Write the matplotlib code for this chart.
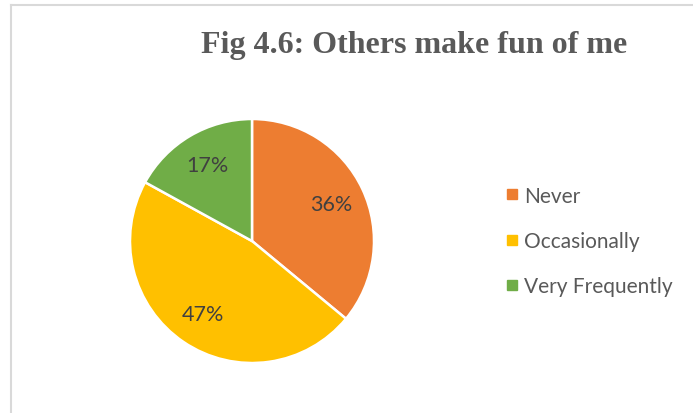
import matplotlib
matplotlib.use("Agg")
import matplotlib.pyplot as plt
from matplotlib.lines import Line2D

categories = ["Never", "Occasionally", "Very Frequently"]
values = [36, 47, 17]
colors = ["#ED7D31", "#FFC000", "#70AD47"]
title = "Fig 4.6: Others make fun of me"

W, H = 693, 414
fig = plt.figure(figsize=(W / 100, H / 100), dpi=100)
fig.patch.set_facecolor("white")

# chart border (top & left visible)
fig.add_artist(Line2D([11 / W, 11 / W], [0, 1 - 6 / H], transform=fig.transFigure,
                      color="#d9d9d9", lw=1.5))
fig.add_artist(Line2D([11 / W, 1], [1 - 6 / H, 1 - 6 / H], transform=fig.transFigure,
                      color="#d9d9d9", lw=1.5))

cx, cy, r = 252, 242, 122
ax = fig.add_axes([(cx - r) / W, (H - cy - r) / H, 2 * r / W, 2 * r / H])
wedges, texts, autotexts = ax.pie(
    values, colors=colors, startangle=90, counterclock=False,
    autopct="%1.0f%%", pctdistance=0.72,
    wedgeprops=dict(edgecolor="white", linewidth=1.8, clip_on=False),
    textprops=dict(color="#404040", fontsize=15.5, family="Lato"))
ax.set_xlim(-1.0, 1.0)
ax.set_ylim(-1.0, 1.0)
ax.set_aspect("equal")
ax.axis("off")

fig.text(414 / W, 1 - 46 / H, title, ha="center", va="center",
         fontsize=23, fontweight="bold", family="Liberation Serif", color="#595959")

handles = [Line2D([], [], marker="s", linestyle="none", markersize=7,
                  markerfacecolor=c, markeredgecolor=c) for c in colors]
leg = fig.legend(handles, categories, loc="center left",
                 bbox_to_anchor=(506 / W, 1 - 242 / H), frameon=False,
                 prop=dict(family="Lato", size=15), labelcolor="#595959",
                 handlelength=0.6, handletextpad=0.25, labelspacing=1.22,
                 borderaxespad=0, borderpad=0)

fig.savefig("out.png", dpi=100, facecolor="white")
